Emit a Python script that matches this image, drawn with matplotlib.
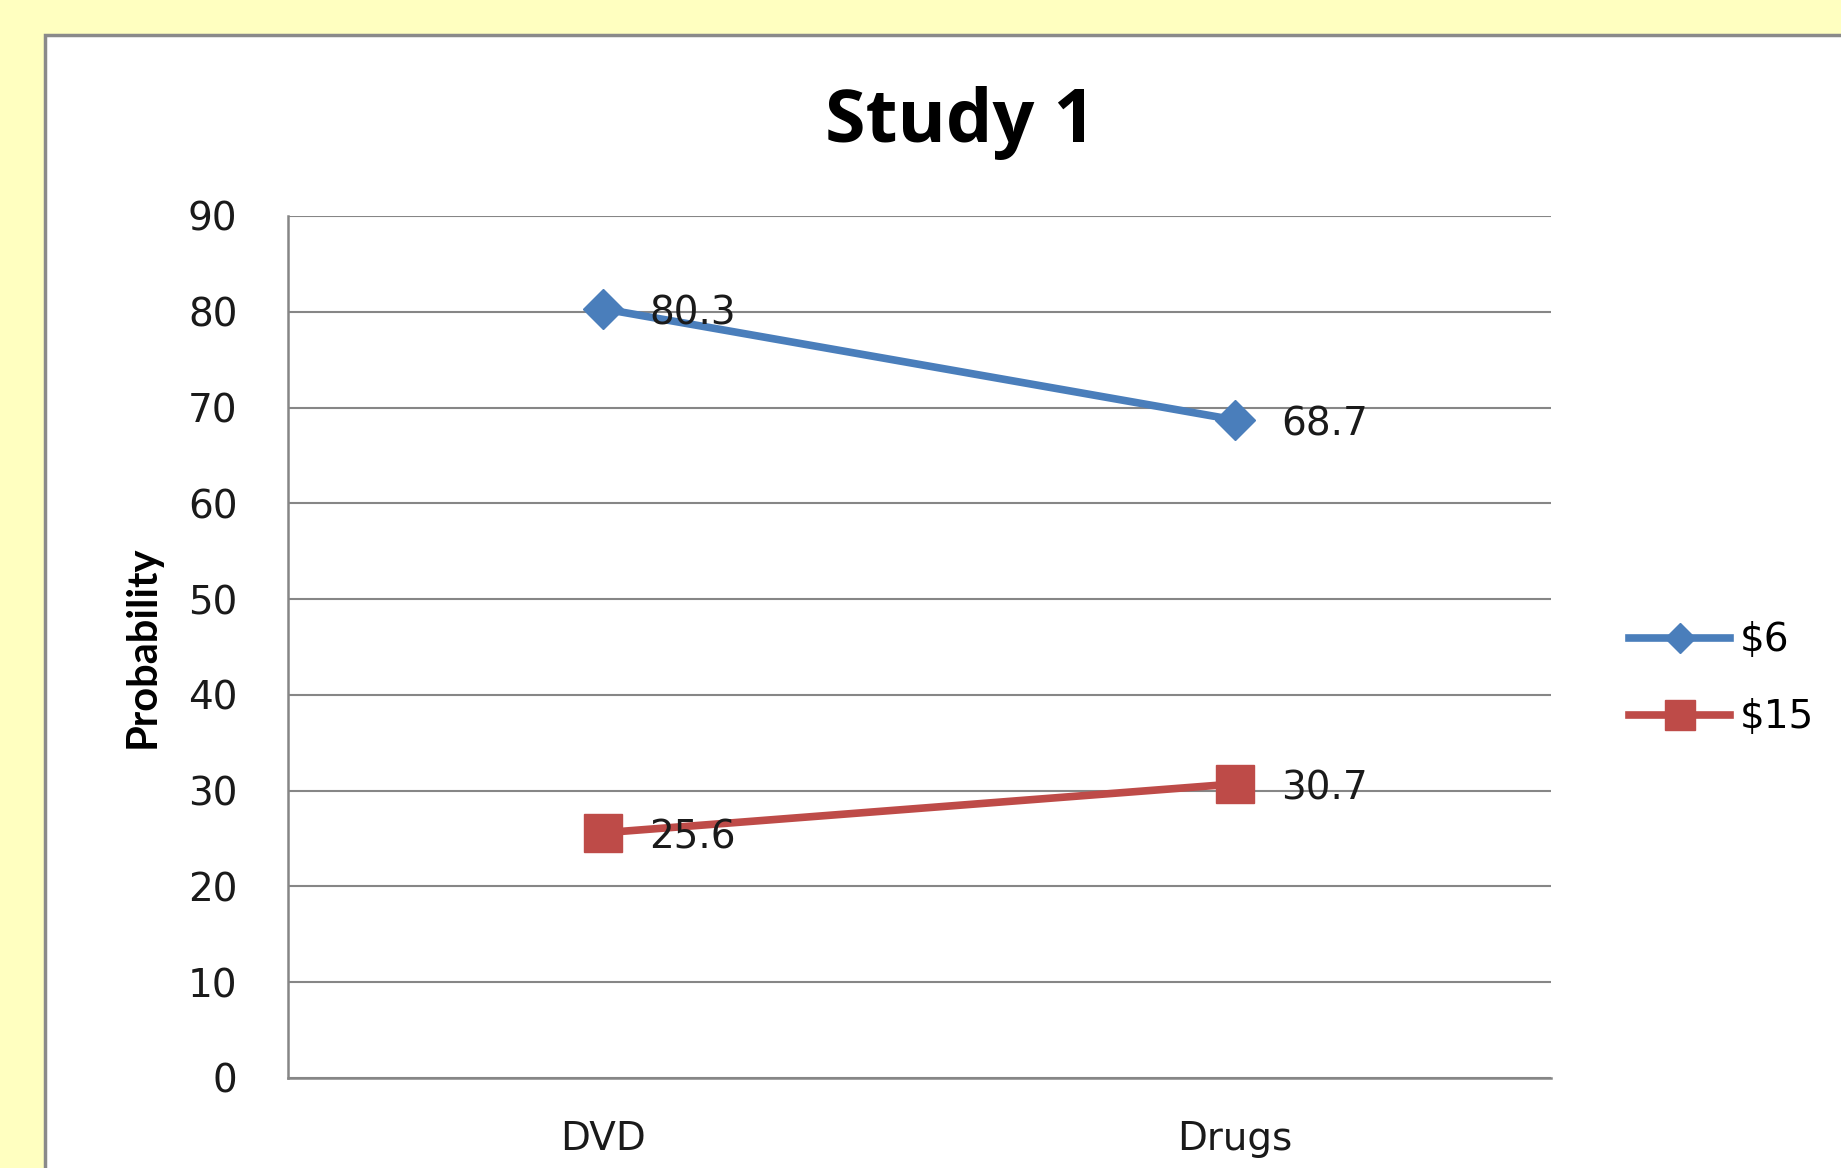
import matplotlib.pyplot as plt
from matplotlib.patches import Rectangle

plt.rcParams['font.family'] = ['DejaVu Sans']

categories = ['DVD', 'Drugs']
low_price = [80.3, 68.7]    # $6
high_price = [25.6, 30.7]   # $15
series_names = ['$6', '$15']
y_ticks = [0, 10, 20, 30, 40, 50, 60, 70, 80, 90]

blue = '#4A7EBB'
red = '#BE4B48'
grid_grey = '#868686'
text_col = '#1a1a1a'

fig = plt.figure(figsize=(18.41, 11.68), dpi=100, facecolor='#FFFFC0')

# white chart panel with grey frame, running off the right and bottom edges
panel = Rectangle((45 / 1841, -0.2), 1.2, 1 - 35 / 1168 + 0.2, transform=fig.transFigure,
                  facecolor='white', edgecolor='#8a8a8a', linewidth=2.5, zorder=-1)
fig.add_artist(panel)

ax = fig.add_axes([0.1562, 0.0771, 0.6863, 0.738])
ax.set_facecolor('white')

x = list(range(len(categories)))
ax.plot(x, low_price, color=blue, linewidth=5.5, marker='D', markersize=20,
        label=series_names[0], zorder=3)
ax.plot(x, high_price, color=red, linewidth=5.5, marker='s', markersize=27,
        label=series_names[1], zorder=3)

# value labels to the right of each point
for series in (low_price, high_price):
    for xi, v in zip(x, series):
        ax.annotate(f'{v}', (xi, v), xytext=(33, -3.5), textcoords='offset points',
                    ha='left', va='center', fontsize=28, color=text_col, zorder=4)

ax.set_xlim(-0.5, 1.5)
ax.set_ylim(0, 90)
ax.set_yticks(y_ticks)
ax.set_xticks(x)
ax.set_xticklabels(categories)
ax.yaxis.grid(True, color=grid_grey, linewidth=1.5)
ax.set_axisbelow(True)
ax.tick_params(axis='y', length=0, pad=36, labelsize=28, labelcolor=text_col)
ax.tick_params(axis='x', length=0, pad=30, labelsize=28, labelcolor=text_col)

for side in ['top', 'right']:
    ax.spines[side].set_visible(False)
for side in ['left', 'bottom']:
    ax.spines[side].set_color(grid_grey)
    ax.spines[side].set_linewidth(1.8)

ax.set_ylabel('Probability', fontsize=30, fontweight='bold', family='Lato', labelpad=19)
fig.text(0.5215, 0.895, 'Study 1', ha='center', va='center', fontsize=53,
         fontweight='bold', family='Open Sans')

ax.legend(loc='center left', bbox_to_anchor=(1.034, 0.463), frameon=False, fontsize=28,
          handlelength=2.6, handletextpad=0.25, labelspacing=1.0, markerscale=0.78)

fig.savefig('out.png', dpi=100, facecolor=fig.get_facecolor())
